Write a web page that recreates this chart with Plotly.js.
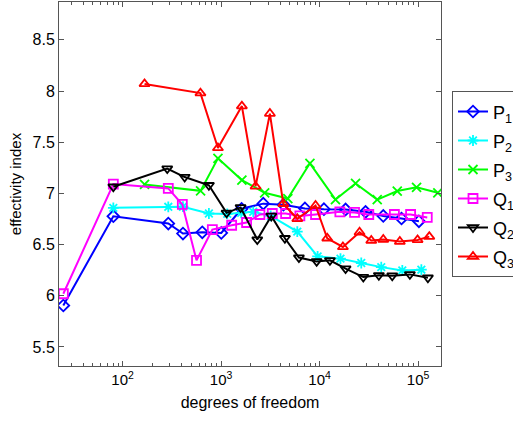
<!DOCTYPE html>
<html>
<head>
<meta charset="utf-8">
<script src="https://cdn.plot.ly/plotly-3.0.1.min.js"></script>
<style>html,body{margin:0;padding:0;background:#fff;}#chart{width:513px;height:421px;}</style>
</head>
<body>
<div id="chart"></div>
<script>
const seriesNames = ["P<sub>1</sub>","P<sub>2</sub>","P<sub>3</sub>","Q<sub>1</sub>","Q<sub>2</sub>","Q<sub>3</sub>"];

const p1X = [25, 80.5, 291, 410, 644, 1005, 1615, 2680, 4300, 7100, 11070, 18370, 29300, 44350, 67900, 102000];
const p1Y = [5.905, 6.777, 6.706, 6.608, 6.62, 6.614, 6.85, 6.90, 6.89, 6.853, 6.846, 6.843, 6.82, 6.78, 6.755, 6.728];

const p2X = [80.5, 291, 410, 752, 1155, 1600, 2120, 3190, 5940, 9550, 16300, 26500, 42300, 69200, 108000];
const p2Y = [6.859, 6.869, 6.87, 6.804, 6.80, 6.81, 6.82, 6.78, 6.627, 6.385, 6.363, 6.32, 6.28, 6.248, 6.255];

const p3X = [167, 619, 929, 1626, 2770, 4760, 7980, 14500, 23200, 38500, 61500, 96600, 158800];
const p3Y = [7.088, 7.025, 7.343, 7.13, 7.006, 6.95, 7.294, 6.94, 7.098, 6.94, 7.023, 7.059, 7.006];

const q1X = [25, 80.5, 291, 404, 563, 815, 1280, 1815, 2478, 3310, 4520, 6310, 9100, 16070, 22650, 31600, 57500, 84000, 124000];
const q1Y = [6.02, 7.091, 7.049, 6.892, 6.346, 6.647, 6.689, 6.716, 6.794, 6.804, 6.804, 6.78, 6.794, 6.82, 6.814, 6.794, 6.794, 6.794, 6.765];

const q2X = [80.5, 284, 427, 752, 1137, 1578, 2330, 3236, 4446, 6170, 9340, 12740, 18370, 27800, 40000, 54700, 82600, 125900];
const q2Y = [7.065, 7.242, 7.16, 7.08, 6.81, 6.863, 6.549, 6.78, 6.562, 6.373, 6.336, 6.346, 6.265, 6.183, 6.2, 6.196, 6.209, 6.176];

const q3X = [167, 617, 929, 1626, 2240, 3130, 4280, 5940, 9100, 11960, 17260, 25470, 33500, 44350, 65300, 98900, 130000];
const q3Y = [8.07, 7.98, 7.444, 7.853, 7.069, 7.78, 6.899, 6.752, 6.882, 6.562, 6.477, 6.62, 6.54, 6.55, 6.53, 6.546, 6.578];

const xTickVals = [100, 1000, 10000, 100000];
const xTickText = ["10<sup>2</sup>", "10<sup>3</sup>", "10<sup>4</sup>", "10<sup>5</sup>"];
const yTickVals = [5.5, 6, 6.5, 7, 7.5, 8, 8.5];
const yTickText = ["5.5", "6", "6.5", "7", "7.5", "8", "8.5"];

const colors = ["#0000ff", "#00ffff", "#00ff00", "#ff00ff", "#000000", "#ff0000"];
const symbols = ["diamond-open", "asterisk-open", "x-thin-open", "square-open", "triangle-down-open", "triangle-up-open"];
const xs = [p1X, p2X, p3X, q1X, q2X, q3X];
const ys = [p1Y, p2Y, p3Y, q1Y, q2Y, q3Y];

const traces = seriesNames.map((n, i) => ({
  type: "scatter", mode: "lines+markers",
  name: "<span style='font-size:18px'>" + n + "</span>",
  x: xs[i], y: ys[i],
  line: {color: colors[i], width: 2},
  marker: {symbol: symbols[i], size: 9, color: colors[i], line: {color: colors[i], width: 1.8}}
}));

const FONT = "Liberation Sans, Arial, sans-serif";
const axisCommon = {
  showline: true, linecolor: "#555", linewidth: 1, mirror: "ticks",
  ticks: "inside", tickcolor: "#555", ticklen: 5, showgrid: false, zeroline: false,
  tickfont: {family: FONT, size: 16, color: "#000"}
};

const layout = {
  width: 513, height: 421,
  margin: {l: 59, r: 72, t: 2, b: 55},
  paper_bgcolor: "#fff", plot_bgcolor: "#fff",
  font: {family: FONT, color: "#000"},
  xaxis: Object.assign({}, axisCommon, {
    type: "log", range: [Math.log10(22.6), Math.log10(171000)],
    tickvals: xTickVals, ticktext: xTickText,
    tickfont: {family: FONT, size: 15, color: "#000"},
    minor: {ticks: "inside", ticklen: 3, tickcolor: "#555", dtick: "D1", showgrid: false},
    title: {text: "degrees of freedom", font: {size: 16}, standoff: 9}
  }),
  yaxis: Object.assign({}, axisCommon, {
    range: [5.314, 8.87],
    tickvals: yTickVals, ticktext: yTickText,
    title: {text: "effectivity index", font: {size: 15}, standoff: 7}
  }),
  legend: {
    x: 452/513, xanchor: "left", y: 1 - 91/421, yanchor: "top",
    yref: "container", xref: "container",
    bordercolor: "#555", borderwidth: 1, bgcolor: "#fff",
    font: {size: 20}, tracegroupgap: 0
  },
  showlegend: true
};

Plotly.newPlot("chart", traces, layout, {displayModeBar: false, staticPlot: true});
</script>
</body>
</html>
